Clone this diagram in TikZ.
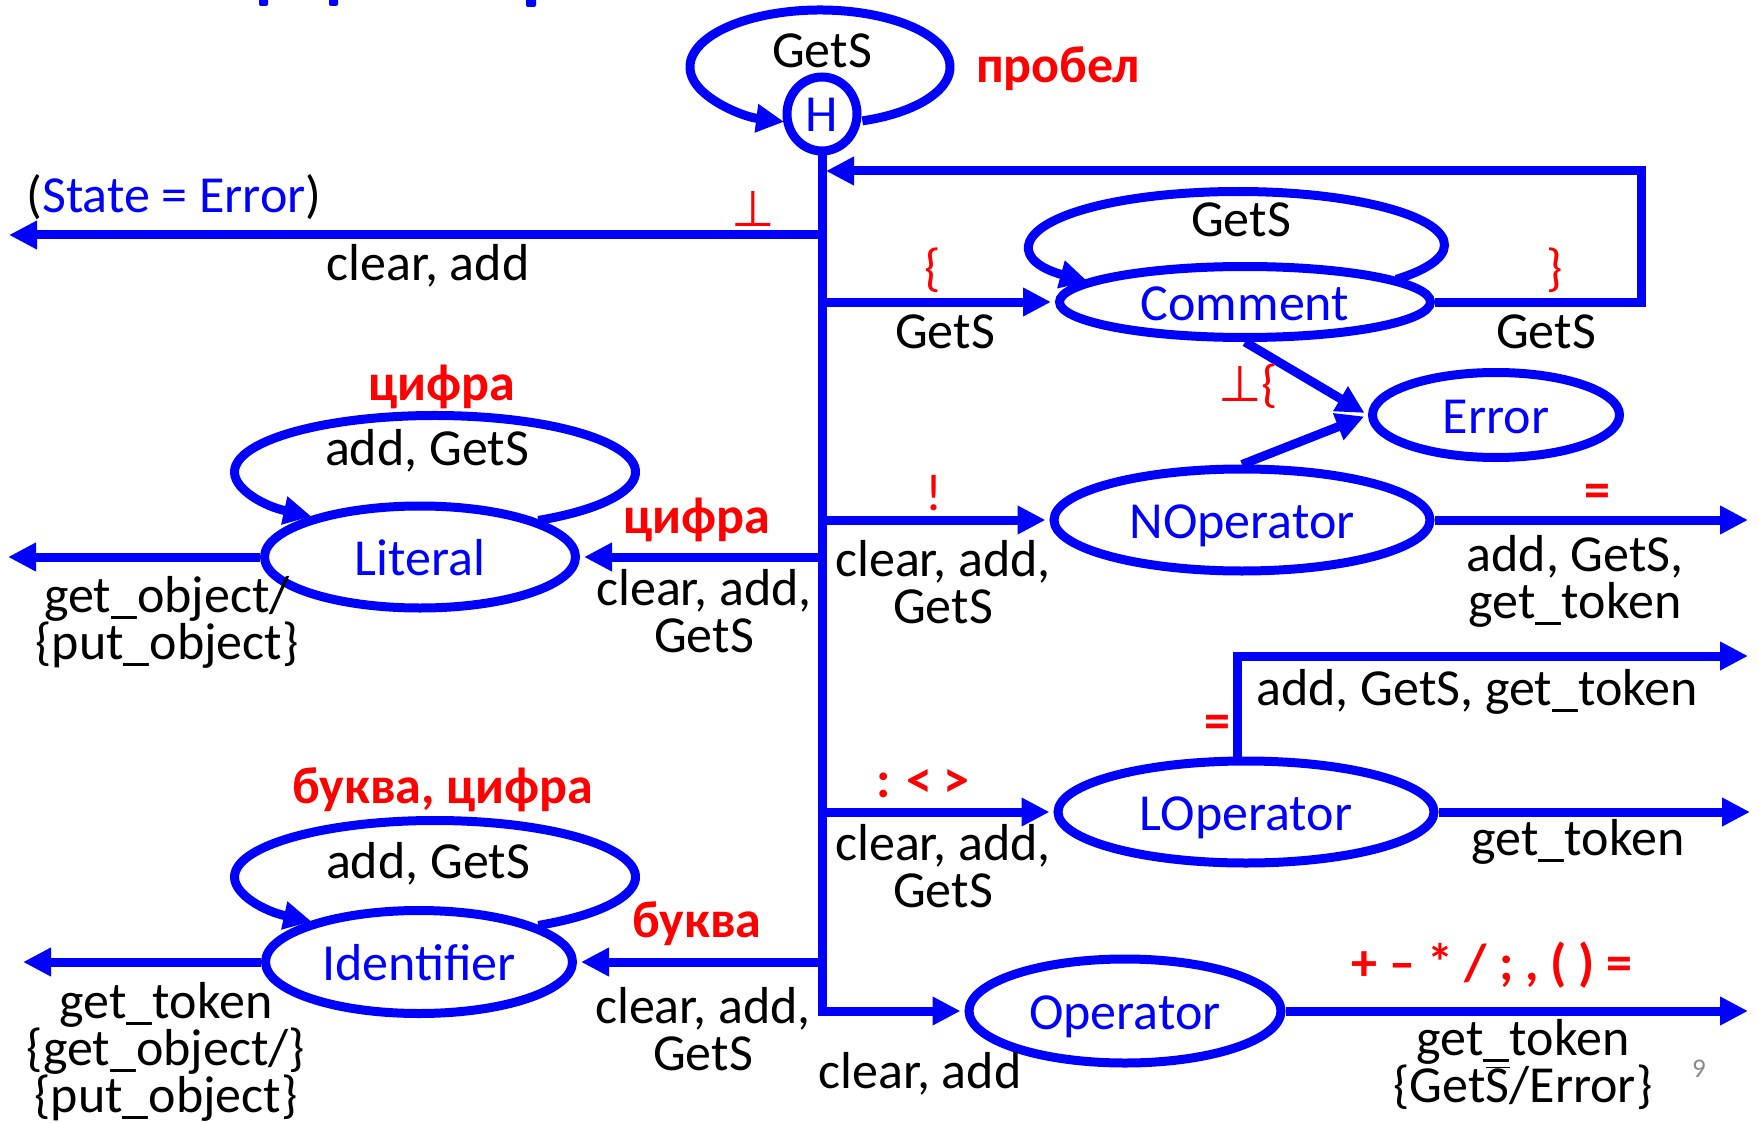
\documentclass[tikz,border=0pt]{standalone}
\usepackage{fontspec}
\setmainfont{Carlito}
\newfontfamily\symfont{DejaVu Sans}
\usetikzlibrary{arrows.meta,shapes.geometric}
\definecolor{tblue}{RGB}{0,0,255}
\definecolor{tred}{RGB}{255,0,0}
\definecolor{tgray}{RGB}{137,137,137}
\newcommand\bigfont{\fontsize{52}{47}\selectfont\lineskiplimit=-100pt\lineskip=0pt}
\newcommand\uptack{{\symfont\fontsize{50}{47}\selectfont ⊥}}
\begin{document}
\begin{tikzpicture}[x=1pt,y=-1pt,
  lab/.style={font=\bigfont, inner sep=0pt, anchor=base, align=center},
  rlab/.style={lab, text=tred, font=\bigfont\bfseries},
  rlabn/.style={lab, text=tred},
  stnode/.style={ellipse, draw=tblue, line width=9pt, text=tblue, font=\bigfont, inner sep=0pt, text height=36pt, text depth=0pt},
  wire/.style={draw=tblue, line width=9pt},
  arr/.style={wire, -{Triangle[length=28pt,width=27pt]}, shorten >=4pt},
  arrfree/.style={wire, -{Triangle[length=28pt,width=27pt]}},
]
\useasboundingbox (0,0) rectangle (1758,1123);

% cut-off title marks
\fill[tblue, rounded corners=2pt] (259,-8) rectangle (268,6);
\fill[tblue, rounded corners=2pt] (329,-8) rectangle (338,6);
\fill[tblue, rounded corners=2pt] (526,-8) rectangle (536,7);

% states
\node[stnode, minimum width=70pt, minimum height=74pt] (H) at (822,114) {H};
\node[stnode, minimum width=371pt, minimum height=71pt] (Comment) at (1245,302) {Comment};
\node[stnode, minimum width=247pt, minimum height=85pt] (Error) at (1496,415) {Error};
\node[stnode, minimum width=376pt, minimum height=102pt] (NOp) at (1242,520) {NOperator};
\node[stnode, minimum width=311pt, minimum height=102pt] (Lit) at (420,557) {Literal};
\node[stnode, minimum width=376pt, minimum height=102pt] (LOp) at (1246,812) {LOperator};
\node[stnode, minimum width=307pt, minimum height=103pt] (Id) at (419,962) {Identifier};
\node[stnode, minimum width=312pt, minimum height=104pt] (Op) at (1125,1011) {Operator};

% junctions and free ends
\coordinate (jTop) at (822,171);
\coordinate (jErr) at (822,235);
\coordinate (jCom) at (822,302);
\coordinate (jNOp) at (822,520);
\coordinate (jLit) at (822,557);
\coordinate (jLOp) at (822,812);
\coordinate (jId) at (822,962);
\coordinate (jOp) at (822,1011);
\coordinate (cTopR) at (1641,171);
\coordinate (eErr) at (9,235);
\coordinate (eNOp) at (1748,520);
\coordinate (eLit) at (8,557);
\coordinate (cLU) at (1237,656);
\coordinate (eLU) at (1748,656);
\coordinate (eLOp) at (1750,812);
\coordinate (eId) at (23,962);
\coordinate (eOp) at (1748,1011);
\coordinate (cH) at (820,67);
\coordinate (cCom) at (1238,245);
\coordinate (cLit) at (435,472);
\coordinate (cId) at (435,877);

% connectors
\draw[arr] (H.south) -- (jOp) -- (Op.west);
\draw[arrfree] (jErr) -- (eErr);
\draw[arr] (jCom) -- (Comment.west);
\draw[arr] (Comment.east) -| (cTopR) -- (jTop);
\draw[arr] (Comment.south) -- (Error.west);
\draw[arr] (NOp.north) -- (Error.west);
\draw[arr] (jNOp) -- (NOp.west);
\draw[arrfree] (NOp.east) -- (eNOp);
\draw[arr] (jLit) -- (Lit.east);
\draw[arrfree] (Lit.west) -- (eLit);
\draw[arr] (jLOp) -- (LOp.west);
\draw[arrfree] (LOp.east) -- (eLOp);
\draw[arrfree] (cLU |- LOp.north) -- (cLU) -- (eLU);
\draw[arr] (jId) -- (Id.east);
\draw[arrfree] (Id.west) -- (eId);
\draw[arrfree] (Op.east) -- (eOp);

% self loops
\draw[arrfree] (cH) ++(71:130 and 57) arc[start angle=71, end angle=-254, x radius=130, y radius=57];
\draw[arrfree] (cCom) ++(40:206.5 and 53.5) arc[start angle=40, end angle=-223.4, x radius=206.5, y radius=53.5];
\draw[arrfree] (cLit) ++(59:200.5 and 56.5) arc[start angle=59, end angle=-232, x radius=200.5, y radius=56.5];
\draw[arrfree] (cId) ++(59:200.5 and 56.5) arc[start angle=59, end angle=-232, x radius=200.5, y radius=56.5];

% labels (multi-line: anchor base = last line)
\node[lab] (tH) at (822,68) {GetS};
\node[rlab] (tSp) at (1058,83) {пробел};
\node[lab] (tSE) at (174,213) {(\textcolor{tblue}{State = Error})};
\node[rlabn] (tBot) at (753,227) {\uptack};
\node[lab] (tCA1) at (428,280) {clear, add};
\node[rlabn] (tLB) at (933,286) {\{};
\node[lab] (tG1) at (945,348) {GetS};
\node[lab] (tG2) at (1241,237) {GetS};
\node[rlabn] (tRB) at (1555,286) {\}};
\node[lab] (tG3) at (1546,348) {GetS};
\node[rlabn] (tBE) at (1248,401) {\uptack\{};
\node[rlabn] (tEx) at (934,510) {!};
\node[lab] (tNL) at (943,623) {clear, add,\\GetS};
\node[rlab] (tEq1) at (1597,507) {=};
\node[lab] (tNR) at (1575,618) {add, GetS,\\get\_token};
\node[rlab] (tDig1) at (442,400) {цифра};
\node[lab] (tLL) at (427,465) {add, GetS};
\node[rlab] (tDig2) at (697,533) {цифра};
\node[lab] (tLitR) at (704,652) {clear, add,\\GetS};
\node[lab] (tLitL) at (167,659) {get\_object/\\\{put\_object\}};
\node[rlab] (tEq2) at (1217,738) {=};
\node[lab] (tLU) at (1477,705) {add, GetS, get\_token};
\node[rlab] (tCol) at (923,797) {: < >};
\node[lab] (tLOL) at (943,907) {clear, add,\\GetS};
\node[lab] (tLOR) at (1578,855) {get\_token};
\node[rlab] (tLD) at (443,803) {буква, цифра};
\node[lab] (tIL) at (428,878) {add, GetS};
\node[rlab] (tLet) at (697,937) {буква};
\node[lab] (tIdR) at (703,1070) {clear, add,\\GetS};
\node[lab] (tIdL) at (166,1112) {get\_token\\\{get\_object/\}\\\{put\_object\}};
\node[rlab] (tOps) at (1492,980) {+ – * / ; , ( ) =};
\node[lab] (tOpR) at (1523,1102) {get\_token\\\{Get$\overline{\mbox{S}}$/Error\}};
\node[lab] (tOpL) at (920,1088) {clear, add};
\node[font=\fontsize{27}{30}\selectfont, text=tgray, inner sep=0pt, anchor=base] (pg) at (1699,1077) {9};
\end{tikzpicture}
\end{document}
